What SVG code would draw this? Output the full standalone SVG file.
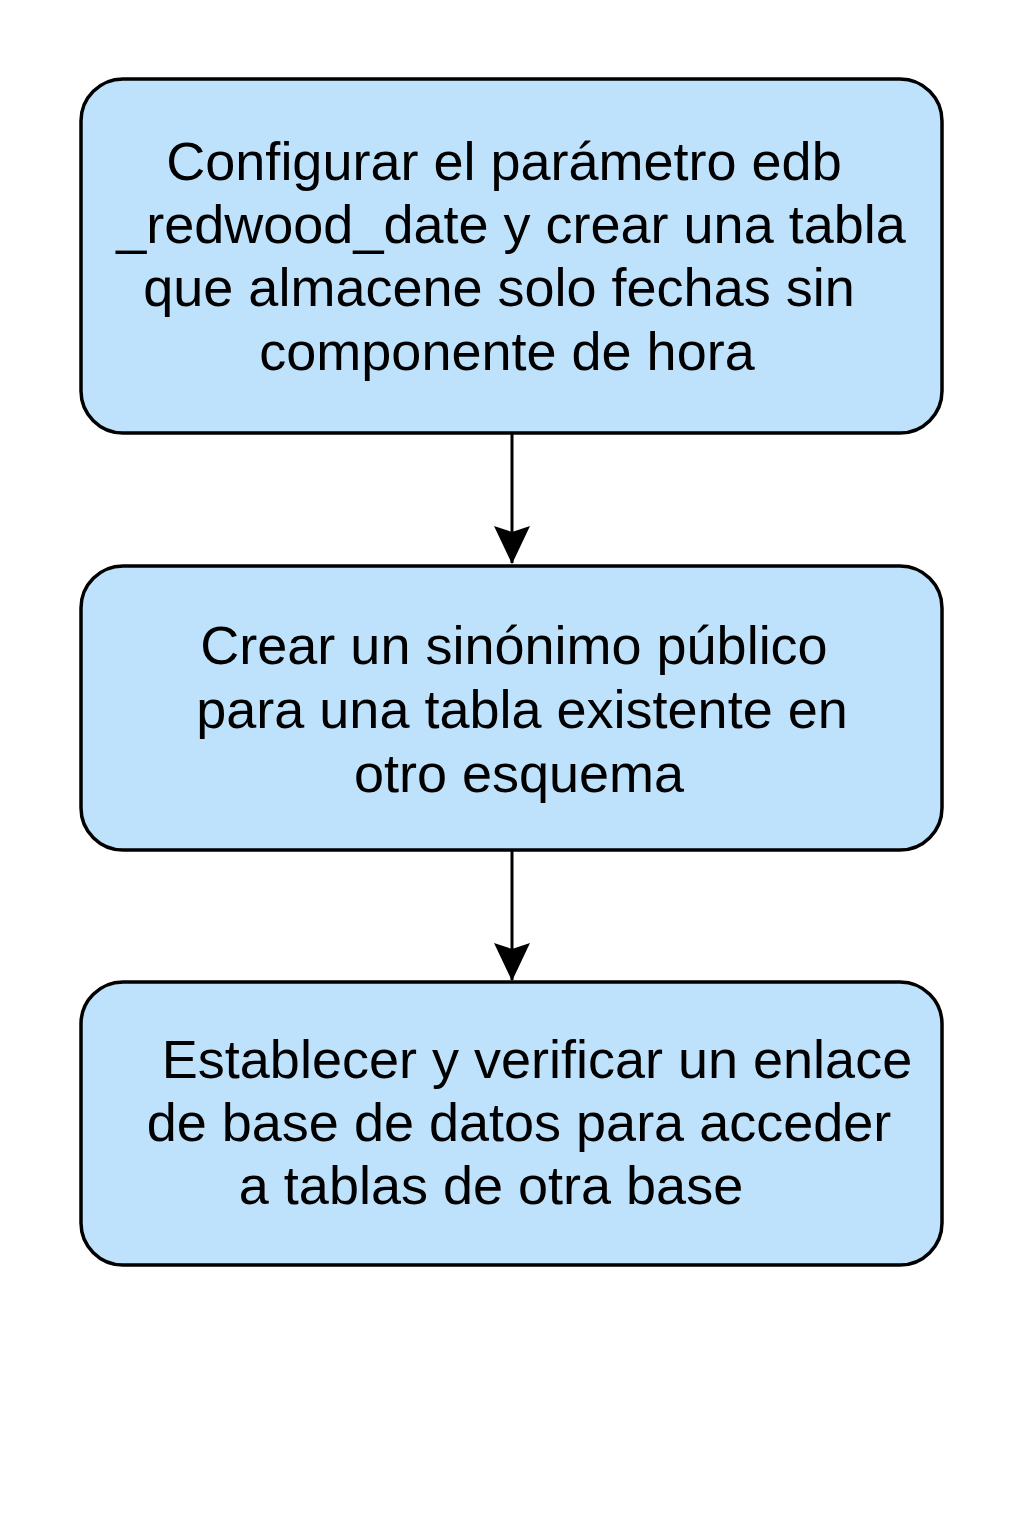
<svg xmlns="http://www.w3.org/2000/svg" width="1024" height="1536" viewBox="0 0 1024 1536">
<style>
.box{fill:#BFE2FC;stroke:#000;stroke-width:3.5}
.t{font-family:"Liberation Sans",Arial,sans-serif;font-size:54px;fill:#000;text-anchor:middle}
.c{stroke:#000;stroke-width:3;fill:none}
</style>
<defs>
<marker id="ah" viewBox="0 0 38 36" refX="37" refY="18" markerWidth="38" markerHeight="36" markerUnits="userSpaceOnUse" orient="auto">
<path d="M0,0 L38,18 L0,36 L6,18 Z" fill="#000"/>
</marker>
</defs>
<rect width="1024" height="1536" fill="#fff"/>
<g id="connectors">
<line class="c" x1="512" y1="433" x2="512" y2="563" marker-end="url(#ah)"/>
<line class="c" x1="512" y1="850" x2="512" y2="980" marker-end="url(#ah)"/>
</g>
<g id="node1">
<rect class="box" x="81" y="79" width="861" height="354" rx="42"/>
<text class="t" x="504" y="180">Configurar el parámetro edb</text>
<text class="t" x="511" y="243">_redwood_date y crear una tabla</text>
<text class="t" x="499" y="306">que almacene solo fechas sin</text>
<text class="t" x="507" y="370">componente de hora</text>
</g>
<g id="node2">
<rect class="box" x="81" y="566" width="861" height="284" rx="42"/>
<text class="t" x="514" y="664">Crear un sinónimo público</text>
<text class="t" x="522" y="728">para una tabla existente en</text>
<text class="t" x="519" y="792">otro esquema</text>
</g>
<g id="node3">
<rect class="box" x="81" y="982" width="861" height="283" rx="42"/>
<text class="t" x="537" y="1078">Establecer y verificar un enlace</text>
<text class="t" x="519" y="1141">de base de datos para acceder</text>
<text class="t" x="491" y="1204">a tablas de otra base</text>
</g>
</svg>
